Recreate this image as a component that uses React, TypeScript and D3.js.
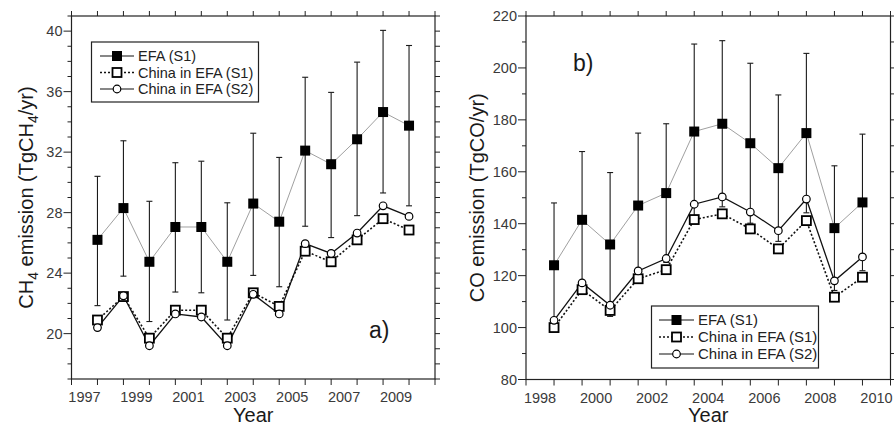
import React from "react";
import * as d3 from "d3";

// ---- Data: CH4 panel (a) ----
const ch4Years = [1997, 1998, 1999, 2000, 2001, 2002, 2003, 2004, 2005, 2006, 2007, 2008, 2009];
const ch4EFA = [26.2, 28.3, 24.75, 27.05, 27.05, 24.75, 28.6, 27.4, 32.1, 31.2, 32.85, 34.65, 33.75];
const ch4EFAUpper = [30.4, 32.75, 28.75, 31.3, 31.4, 28.65, 33.25, 31.65, 36.95, 35.95, 37.95, 40.05, 39.05];
const ch4EFALower = [21.85, 23.8, 20.8, 22.75, 22.7, 20.9, 23.85, 23.1, 27.1, 26.35, 27.8, 29.3, 28.45];
const ch4ChinaS1 = [20.9, 22.45, 19.7, 21.55, 21.55, 19.7, 22.7, 21.8, 25.45, 24.75, 26.2, 27.6, 26.85];
const ch4ChinaS2 = [20.4, 22.5, 19.2, 21.3, 21.1, 19.2, 22.6, 21.3, 25.95, 25.3, 26.65, 28.45, 27.75];
const ch4XLabels = [1997, 1999, 2001, 2003, 2005, 2007, 2009];
const ch4YLabels = [20, 24, 28, 32, 36, 40];

// ---- Data: CO panel (b) ----
const coYears = [1998, 1999, 2000, 2001, 2002, 2003, 2004, 2005, 2006, 2007, 2008, 2009];
const coEFA = [124, 141.5, 132, 147, 151.8, 175.5, 178.5, 171, 161.4, 174.9, 138.3, 148.2];
const coEFAUpper = [148, 167.8, 159.7, 174.9, 178.5, 209.2, 210.5, 201.8, 189.6, 205.6, 162.3, 174.5];
const coEFALower = [100, 115.2, 104.3, 119.1, 125.1, 141.8, 146.5, 140.2, 133.2, 144.2, 114.3, 121.9];
const coChinaS1 = [100, 114.6, 106.6, 118.8, 122.3, 141.6, 143.8, 138, 130.3, 141.2, 111.7, 119.4];
const coChinaS2 = [102.8, 117.2, 108.6, 121.8, 126.6, 147.5, 150.3, 144.5, 137.3, 149.5, 118, 127.2];
const coXLabels = [1998, 2000, 2002, 2004, 2006, 2008, 2010];
const coYLabels = [80, 100, 120, 140, 160, 180, 200, 220];

const legendNames = ["EFA (S1)", "China in EFA (S1)", "China in EFA (S2)"];

const FONT = "'Liberation Sans', Arial, Helvetica, sans-serif";

type PanelProps = {
  x0: number; x1: number; y0: number; y1: number;
  xDomain: [number, number]; yDomain: [number, number];
  years: number[]; efa: number[]; upper: number[]; lower: number[]; s1: number[]; s2: number[];
  xLabels: number[]; yLabels: number[]; yMinorStep: number;
  legend: { x: number; y: number; w: number; h: number; rowGap: number; lineX0: number; lineX1: number; textX: number; fontSize: number };
  tag: string; tagX: number; tagY: number;
  yTitle: React.ReactNode; yTitleX: number;
};

function Panel(p: PanelProps) {
  const x = d3.scaleLinear().domain(p.xDomain).range([p.x0, p.x1]);
  const y = d3.scaleLinear().domain(p.yDomain).range([p.y1, p.y0]);
  const yearTicks = d3.range(p.xDomain[0], p.xDomain[1] + 0.001, 1);
  const yMinor = d3.range(p.yDomain[0], p.yDomain[1] + 0.001, p.yMinorStep);
  const line = d3.line<number>().x((_, i) => x(p.years[i])).y((d) => y(d));
  const axisColor = "#222";
  const capW = 3;
  const sq = 10;
  const lg = p.legend;
  const midX = (p.x0 + p.x1) / 2;
  const midY = (p.y0 + p.y1) / 2;

  return (
    <g>
      {/* frame */}
      <rect x={p.x0} y={p.y0} width={p.x1 - p.x0} height={p.y1 - p.y0} fill="none" stroke={axisColor} strokeWidth={1.2} />
      {/* x ticks bottom & top */}
      {yearTicks.map((t) => (
        <g key={"xt" + t}>
          <line x1={x(t)} x2={x(t)} y1={p.y1} y2={p.y1 + 6} stroke={axisColor} strokeWidth={1} />
          <line x1={x(t)} x2={x(t)} y1={p.y0} y2={p.y0 - 5} stroke={axisColor} strokeWidth={1} />
        </g>
      ))}
      {p.xLabels.map((t) => (
        <text key={"xl" + t} x={x(t - 0.5)} y={p.y1 + 23} textAnchor="middle" fontSize={14.5} fill="#3a3a3a" fontFamily={FONT}>
          {t}
        </text>
      ))}
      {/* y ticks */}
      {yMinor.map((v) => {
        const major = p.yLabels.includes(v);
        return (
          <g key={"yt" + v}>
            <line x1={p.x0} x2={p.x0 - (major ? 8 : 4)} y1={y(v)} y2={y(v)} stroke={axisColor} strokeWidth={1} />
            <line x1={p.x1} x2={p.x1 + 5} y1={y(v)} y2={y(v)} stroke={axisColor} strokeWidth={1} />
          </g>
        );
      })}
      {p.yLabels.map((v) => (
        <text key={"yl" + v} x={p.x0 - 9} y={y(v) + 5} textAnchor="end" fontSize={14.5} fill="#3a3a3a" fontFamily={FONT}>
          {v}
        </text>
      ))}
      {/* axis titles */}
      <text x={midX} y={422} textAnchor="middle" fontSize={20} fill="#1a1a1a" fontFamily={FONT}>Year</text>
      <text transform={`translate(${p.yTitleX},${midY}) rotate(-90)`} textAnchor="middle" fontSize={20} fill="#1a1a1a" fontFamily={FONT}>
        {p.yTitle}
      </text>
      {/* panel tag */}
      <text x={p.tagX} y={p.tagY} fontSize={23} fill="#1a1a1a" fontFamily={FONT}>{p.tag}</text>

      {/* error bars */}
      {p.years.map((yr, i) => (
        <g key={"eb" + yr} stroke="#1a1a1a" strokeWidth={1.1}>
          <line x1={x(yr)} x2={x(yr)} y1={y(p.upper[i])} y2={y(p.lower[i])} />
          <line x1={x(yr) - capW} x2={x(yr) + capW} y1={y(p.upper[i])} y2={y(p.upper[i])} />
          <line x1={x(yr) - capW} x2={x(yr) + capW} y1={y(p.lower[i])} y2={y(p.lower[i])} />
        </g>
      ))}
      {/* lines */}
      <path d={line(p.efa) || ""} fill="none" stroke="#a0a0a0" strokeWidth={1} />
      <path d={line(p.s1) || ""} fill="none" stroke="#111" strokeWidth={1.6} strokeDasharray="2,2" />
      <path d={line(p.s2) || ""} fill="none" stroke="#111" strokeWidth={1.3} />
      {/* markers */}
      {p.years.map((yr, i) => (
        <rect key={"m1" + yr} x={x(yr) - sq / 2} y={y(p.efa[i]) - sq / 2} width={sq} height={sq} fill="#000" />
      ))}
      {p.years.map((yr, i) => (
        <rect key={"m2" + yr} x={x(yr) - 4.5} y={y(p.s1[i]) - 4.5} width={9} height={9} fill="#fff" stroke="#000" strokeWidth={1.8} />
      ))}
      {p.years.map((yr, i) => (
        <circle key={"m3" + yr} cx={x(yr)} cy={y(p.s2[i])} r={3.8} fill="#fff" stroke="#000" strokeWidth={1.2} />
      ))}

      {/* legend */}
      <rect x={lg.x} y={lg.y} width={lg.w} height={lg.h} fill="#fff" stroke="#222" strokeWidth={1.2} />
      {legendNames.map((name, i) => {
        const ry = lg.y + 14 + i * lg.rowGap;
        const mx = (lg.lineX0 + lg.lineX1) / 2;
        return (
          <g key={"lg" + i}>
            {i === 0 && (
              <>
                <line x1={lg.lineX0} x2={lg.lineX1} y1={ry} y2={ry} stroke="#111" strokeWidth={1.2} />
                <rect x={mx - 5} y={ry - 5} width={10} height={10} fill="#000" />
              </>
            )}
            {i === 1 && (
              <>
                <line x1={lg.lineX0} x2={lg.lineX1} y1={ry} y2={ry} stroke="#111" strokeWidth={1.6} strokeDasharray="2,2" />
                <rect x={mx - 4.5} y={ry - 4.5} width={9} height={9} fill="#fff" stroke="#000" strokeWidth={1.8} />
              </>
            )}
            {i === 2 && (
              <>
                <line x1={lg.lineX0} x2={lg.lineX1} y1={ry} y2={ry} stroke="#111" strokeWidth={1.1} />
                <circle cx={mx} cy={ry} r={3.8} fill="#fff" stroke="#000" strokeWidth={1.2} />
              </>
            )}
            <text x={lg.textX} y={ry + 5} fontSize={lg.fontSize} fill="#222" fontFamily={FONT}>{name}</text>
          </g>
        );
      })}
    </g>
  );
}

export default function App() {
  return (
    <svg width={894} height={428} style={{ position: "absolute", left: 0, top: 0, background: "#fff" }}>
      <rect x={0} y={0} width={894} height={428} fill="#fff" />
      <Panel
        x0={71.5} x1={435} y0={16} y1={379}
        xDomain={[1996, 2010]} yDomain={[17, 41]}
        years={ch4Years} efa={ch4EFA} upper={ch4EFAUpper} lower={ch4EFALower} s1={ch4ChinaS1} s2={ch4ChinaS2}
        xLabels={ch4XLabels} yLabels={ch4YLabels} yMinorStep={1}
        legend={{ x: 91.5, y: 42, w: 167, h: 60, rowGap: 16.5, lineX0: 100, lineX1: 134, textX: 138, fontSize: 14.5 }}
        tag="a)" tagX={369} tagY={338}
        yTitleX={33}
        yTitle={
          <>
            CH<tspan dy={5} fontSize={14}>4</tspan>
            <tspan dy={-5}> emission (TgCH</tspan>
            <tspan dy={5} fontSize={14}>4</tspan>
            <tspan dy={-5}>/yr)</tspan>
          </>
        }
      />
      <Panel
        x0={526} x1={890.5} y0={16} y1={379.5}
        xDomain={[1997, 2010]} yDomain={[80, 220]}
        years={coYears} efa={coEFA} upper={coEFAUpper} lower={coEFALower} s1={coChinaS1} s2={coChinaS2}
        xLabels={coXLabels} yLabels={coYLabels} yMinorStep={10}
        legend={{ x: 651.5, y: 306, w: 167, h: 62, rowGap: 17, lineX0: 659, lineX1: 694, textX: 698, fontSize: 15 }}
        tag="b)" tagX={573} tagY={71}
        yTitleX={484}
        yTitle={<>CO emission (TgCO/yr)</>}
      />
    </svg>
  );
}
